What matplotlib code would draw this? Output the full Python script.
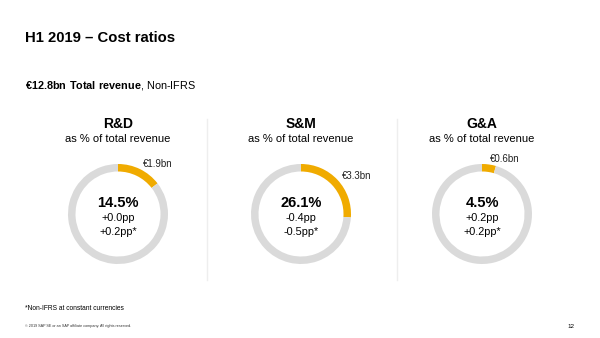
import numpy as np
import matplotlib.pyplot as plt

plt.rcParams['font.family'] = ['Liberation Sans', 'DejaVu Sans']
plt.rcParams['mathtext.fontset'] = 'custom'
plt.rcParams['mathtext.rm'] = 'Liberation Sans'
plt.rcParams['mathtext.bf'] = 'Liberation Sans:bold'

# data
categories = ['R&D', 'S&M', 'G&A']
ratios = [14.5, 26.1, 4.5]            # % of total revenue
amounts = ['€1.9bn', '€3.3bn', '€0.6bn']
change_ifrs = ['+0.0pp', '-0.4pp', '+0.2pp']
change_cc = ['+0.2pp*', '-0.5pp*', '+0.2pp*']

GOLD = '#F0AB00'
GREY = '#DADADA'
W, H = 600, 338

fig = plt.figure(figsize=(W / 100, H / 100), dpi=100)
ax = fig.add_axes([0, 0, 1, 1])

centers_x = [118, 301, 482]
cy = H - 214
radius = 50

for i, cat in enumerate(categories):
    cx = centers_x[i]
    pct = ratios[i]
    ax.pie([pct, 100 - pct], colors=[GOLD, GREY], startangle=90, counterclock=False,
           radius=radius, center=(cx, cy),
           wedgeprops=dict(width=7.5, linewidth=0))

    # amount label just outside the middle of the gold arc
    mid = np.deg2rad(90 - pct / 100 * 180)
    ax.text(cx + (radius + 6) * np.cos(mid), cy + (radius + 6) * np.sin(mid), amounts[i],
            ha='left', va='center', fontsize=7, color='#222222')

    ax.text(cx, H - 124, cat, ha='center', va='center', fontsize=10, fontweight='bold')
    ax.text(cx, H - 139, 'as % of total revenue', ha='center', va='center', fontsize=8)

    ax.text(cx, H - 203, f'{pct}%', ha='center', va='center', fontsize=10.5, fontweight='bold')
    ax.text(cx, H - 218, change_ifrs[i], ha='center', va='center', fontsize=7.8)
    ax.text(cx, H - 232, change_cc[i], ha='center', va='center', fontsize=7.8)

# thin separators between the panels
for x in [207, 397]:
    ax.plot([x, x], [H - 119, H - 280], color='#EEEEEE', linewidth=1)

ax.text(25, H - 38, 'H1 2019 – Cost ratios', fontsize=10.7, fontweight='bold', va='center')
ax.text(25, H - 88.5, r'$\mathbf{€12.8bn\ Total\ revenue}$, Non-IFRS', fontsize=7.8,
        va='baseline')

ax.text(25, H - 309, '*Non-IFRS at constant currencies', fontsize=4.8, va='center')
ax.text(25, H - 326, '© 2019 SAP SE or an SAP affiliate company. All rights reserved.',
        fontsize=2.7, va='center', color='#333333')
ax.text(571, H - 327, '12', fontsize=4.5, va='center', ha='center')

ax.set_xlim(0, W)
ax.set_ylim(0, H)
ax.set_aspect('auto')
ax.axis('off')

fig.savefig('out.png', dpi=100)
